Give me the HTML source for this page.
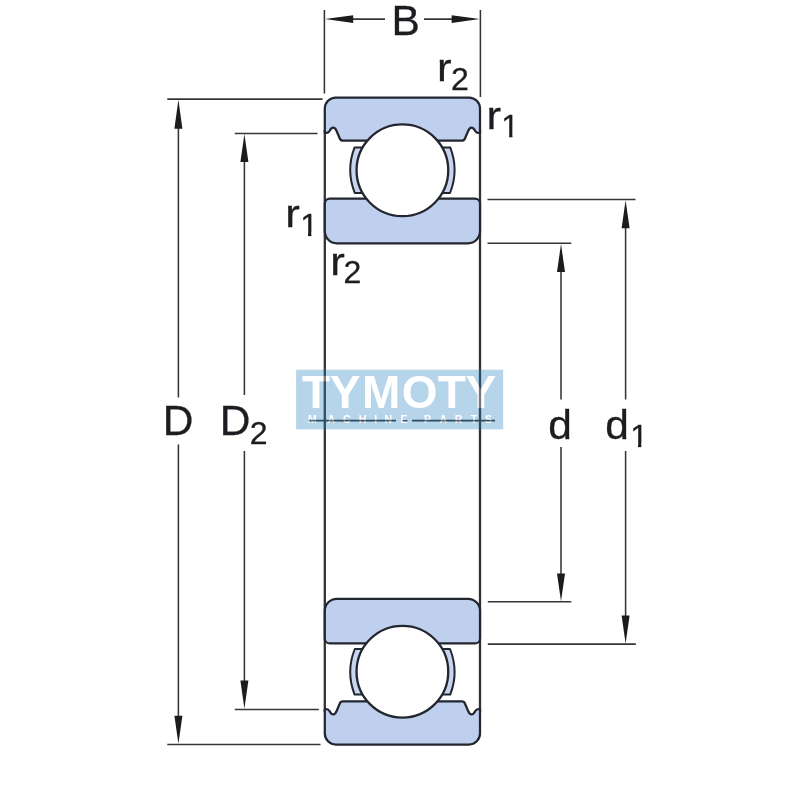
<!DOCTYPE html>
<html>
<head>
<meta charset="utf-8">
<title>Bearing dimensions</title>
<style>
html,body{margin:0;padding:0;background:#fff;}
body{width:800px;height:800px;overflow:hidden;}
svg{display:block;will-change:transform;}
text{font-family:"Liberation Sans",sans-serif;fill:#1d1d1f;}
.ring{fill:#bfcfee;stroke:#23262e;stroke-width:2.25;stroke-linejoin:round;}
.ball{fill:#fff;stroke:#23262e;stroke-width:2.3;}
.cage{fill:#c9d4ee;stroke:#23262e;stroke-width:2;stroke-linejoin:round;}
.thin{stroke:#363636;stroke-width:1.55;fill:none;}
.edge{stroke:#333;stroke-width:2.3;fill:none;}
.arr{fill:#1a1a1a;stroke:none;}
.big{font-size:42.5px;stroke:#1d1d1f;stroke-width:.3px;}
.sub{font-size:32px;stroke:#1d1d1f;stroke-width:.3px;}
</style>
</head>
<body>
<svg width="800" height="800" viewBox="0 0 800 800">
<g filter="url(#soft)">
<rect width="800" height="800" fill="#fff"/>
<defs>
<filter id="soft" x="0" y="0" width="800" height="800" filterUnits="userSpaceOnUse"><feGaussianBlur stdDeviation="0.45"/></filter>
<g id="half">
  <!-- outer ring -->
  <path class="ring" d="M324.8,132.7 L324.8,108.5 A11,11 0 0 1 335.8,97.5 L469,97.5 A11,11 0 0 1 480,108.5 L480,132.7 C477.75,133.4 476.25,132.7 475.25,131 C474.25,129 473.25,127.6 471.65,127.6 C469.75,127.6 468.75,129.5 468.15,131 L464.95,138.5 Q464.15,140.6 461.95,140.6 L342.8,140.6 Q340.6,140.6 339.8,138.5 L336.6,131 C336,129.5 335,127.6 333.1,127.6 C331.5,127.6 330.5,129 329.5,131 C328.5,132.7 327,133.4 324.8,132.7 Z"/>
  <!-- inner ring -->
  <path class="ring" d="M324.8,203.6 A5,5 0 0 1 329.8,198.6 L475,198.6 A5,5 0 0 1 480,203.6 L480,231.25 A12,12 0 0 1 468,243.25 L336.8,243.25 A12,12 0 0 1 324.8,231.25 Z"/>
  <!-- cage -->
  <path class="cage" d="M354.6,147.4 A62,62 0 0 0 354.8,193 L366,193 L366,147.4 Z"/>
  <path class="cage" d="M450.2,147.4 A62,62 0 0 1 450,193 L439,193 L439,147.4 Z"/>
  <!-- ball -->
  <circle class="ball" cx="402.4" cy="170.3" r="45.85"/>
</g>
<clipPath id="oneclip" clipPathUnits="userSpaceOnUse"><path d="M0,-26 H20 V-3.6 H11.1 V1 H7.8 V-3.6 H0 Z"/></clipPath>
</defs>

<!-- side edges -->
<line class="edge" x1="324.8" y1="130" x2="324.8" y2="712"/>
<line class="edge" x1="480" y1="130" x2="480" y2="712"/>

<use href="#half"/>
<use href="#half" transform="translate(0,842) scale(1,-1)"/>

<!-- B dimension -->
<line class="thin" x1="324.4" y1="10" x2="324.4" y2="93.5"/>
<line class="thin" x1="480.4" y1="10" x2="480.4" y2="97"/>
<line class="thin" x1="340" y1="19.1" x2="385" y2="19.1"/>
<line class="thin" x1="424" y1="19.1" x2="465" y2="19.1"/>
<path class="arr" d="M325,19.1 L353.2,15.3 L353.2,22.9 Z"/>
<path class="arr" d="M479.7,19.1 L451.6,15.3 L451.6,22.9 Z"/>

<!-- D dimension -->
<line class="thin" x1="167.3" y1="99.1" x2="322.5" y2="99.1"/>
<line class="thin" x1="167.3" y1="744.4" x2="320.5" y2="744.4"/>
<line class="thin" x1="178.4" y1="120" x2="178.4" y2="397.5"/>
<line class="thin" x1="178.4" y1="444.5" x2="178.4" y2="725"/>
<path class="arr" d="M178.4,99.7 L174.4,128.8 L182.4,128.8 Z"/>
<path class="arr" d="M178.4,743.8 L174.4,715.8 L182.4,715.8 Z"/>

<!-- D2 dimension -->
<line class="thin" x1="234.8" y1="133.4" x2="317.5" y2="133.4"/>
<line class="thin" x1="234.8" y1="709.4" x2="318.8" y2="709.4"/>
<line class="thin" x1="244.4" y1="150" x2="244.4" y2="395"/>
<line class="thin" x1="244.4" y1="451" x2="244.4" y2="690"/>
<path class="arr" d="M244.4,134.0 L240.4,162 L248.4,162 Z"/>
<path class="arr" d="M244.4,708.8 L240.4,680.6 L248.4,680.6 Z"/>

<!-- d dimension -->
<line class="thin" x1="487.5" y1="243.2" x2="571.3" y2="243.2"/>
<line class="thin" x1="487.8" y1="601.8" x2="571.3" y2="601.8"/>
<line class="thin" x1="561" y1="262" x2="561" y2="399.5"/>
<line class="thin" x1="561" y1="447" x2="561" y2="580"/>
<path class="arr" d="M561,244.0 L557,272 L565,272 Z"/>
<path class="arr" d="M561,601.2 L557,573.4 L565,573.4 Z"/>

<!-- d1 dimension -->
<line class="thin" x1="487.5" y1="199.5" x2="635.5" y2="199.5"/>
<line class="thin" x1="487.8" y1="644.1" x2="635.8" y2="644.1"/>
<line class="thin" x1="625.6" y1="220" x2="625.6" y2="399.5"/>
<line class="thin" x1="625.6" y1="451" x2="625.6" y2="622"/>
<path class="arr" d="M625.6,200.2 L621.6,228.2 L629.6,228.2 Z"/>
<path class="arr" d="M625.6,643.4 L621.6,615.4 L629.6,615.4 Z"/>


<!-- labels -->
<g opacity="0.995">
<text class="big" x="391.5" y="35">B</text>
<text class="big" x="162.8" y="435.2">D</text>
<text class="big" x="219.65" y="435.2">D</text>
<text class="sub" x="249.8" y="444.2">2</text>
<text class="big" transform="translate(548.2,438.5) scale(1,0.97)">d</text>
<text class="big" transform="translate(605.3,438.5) scale(1,0.97)">d</text>
<g transform="translate(630.23,446.8)"><text class="sub" x="0" y="0" clip-path="url(#oneclip)">1</text></g>
<text class="big" transform="translate(437.1,80.9) scale(1.03,0.93)">r</text>
<text class="sub" x="451.1" y="89.6">2</text>
<text class="big" transform="translate(486.4,128.8) scale(1.03,0.93)">r</text>
<g transform="translate(501.33,137.3)"><text class="sub" x="0" y="0" clip-path="url(#oneclip)">1</text></g>
<text class="big" transform="translate(285.3,227.3) scale(1.03,0.93)">r</text>
<g transform="translate(300.23,235.8)"><text class="sub" x="0" y="0" clip-path="url(#oneclip)">1</text></g>
<text class="big" transform="translate(330.2,274.9) scale(1.03,0.93)">r</text>
<text class="sub" x="343.4" y="283.4">2</text>
</g>
<!-- centre line -->
<path class="edge" style="stroke-width:1.7" d="M308.9,420.7 L396,420.7 M402.5,420.7 L407.4,420.7 M411.9,420.7 L495,420.7"/>

<!-- watermark -->
<g opacity="0.33">
  <rect x="296.1" y="369.7" width="207.1" height="59.7" fill="#2780bf"/>
  <text x="301.9 329.8 362 401.7 437.8 465.6" y="408.2" style="font-size:46px;font-weight:bold;fill:#fff">TYMOTY</text>
  <text x="308.1 327.5 343.1 358.7 374.3 384.6 400.5 412 424.1 439.6 454.7 470.8 485" y="423.3" style="font-size:10.5px;font-weight:bold;fill:#fff">MACHINE PARTS</text>
</g>
</g>
</svg>
</body>
</html>
